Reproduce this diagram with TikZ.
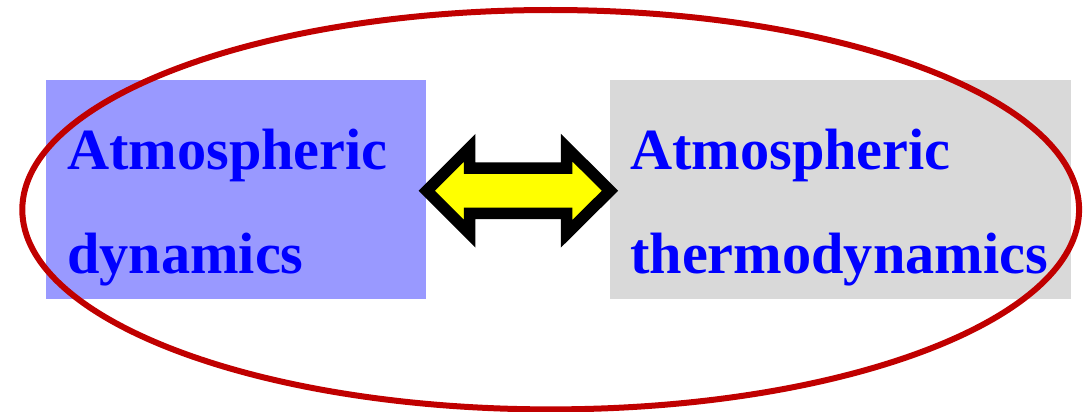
\documentclass[tikz,border=0pt]{standalone}
\usepackage{fontspec}
\setmainfont{Liberation Serif}
\definecolor{boxblue}{RGB}{153,153,255}
\definecolor{boxgray}{RGB}{217,217,217}
\definecolor{txtblue}{RGB}{0,0,255}
\definecolor{ovalred}{RGB}{192,0,0}
\definecolor{arrowyellow}{RGB}{255,255,0}
\begin{document}
\begin{tikzpicture}[x=1pt,y=-1pt,
  panel/.style={anchor=north west, inner sep=0pt, outer sep=0pt},
  label/.style={anchor=base west, inner sep=0pt, text=txtblue, font=\bfseries\fontsize{58.3}{70}\selectfont},
  oval/.style={draw=ovalred, line width=6pt},
  dblarrow/.style={draw=black, fill=arrowyellow, line width=11.5pt, miter limit=10, line join=miter}]
\useasboundingbox (0,0) rectangle (1084,412);
\node[panel, fill=boxblue, minimum width=380pt, minimum height=219pt] (lbox) at (46,80) {};
\node[panel, fill=boxgray, minimum width=461pt, minimum height=219pt] (rbox) at (610,80) {};
\draw[oval] (550.7,209.7) ellipse [x radius=528.4pt, y radius=199.7pt];
\node[label] (l1) at (67,169.3) {Atmospheric};
\node[label] (l2) at (67,273.3) {dynamics};
\node[label] (r1) at (630,169.3) {Atmospheric};
\node[label] (r2) at (630,273.3) {thermodynamics};
\draw[dblarrow] (426.7,190.7) -- (469.7,147.7) -- (469.7,168.2) -- (566.7,168.2) -- (566.7,147.7)
  -- (610,190.7) -- (566.7,233.7) -- (566.7,213.3) -- (469.7,213.3) -- (469.7,233.7) -- cycle;
\end{tikzpicture}
\end{document}
